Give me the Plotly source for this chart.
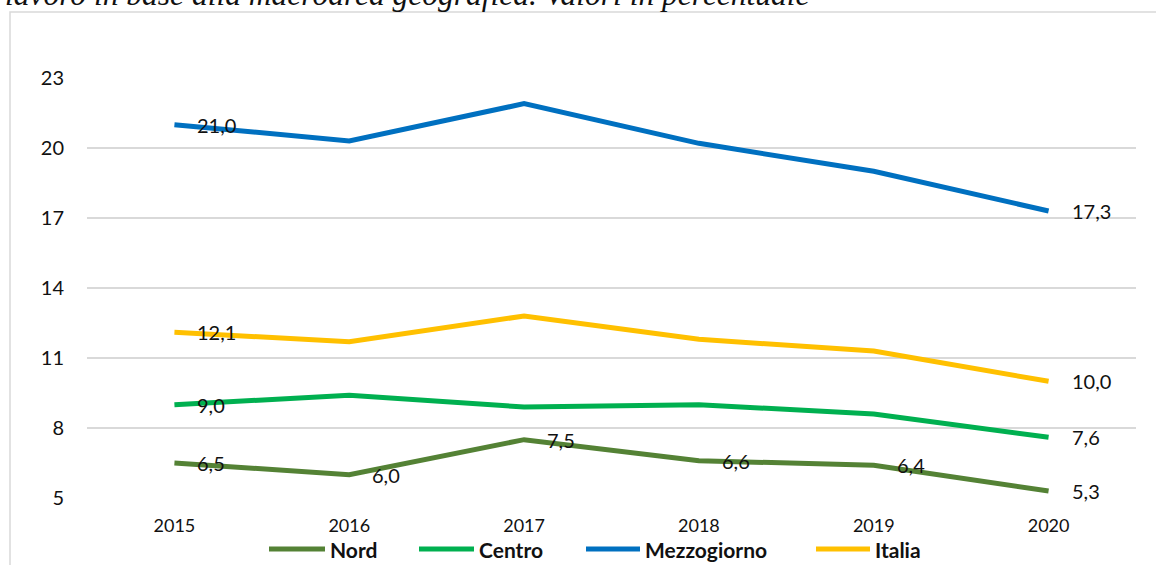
import plotly.graph_objects as go

years = ["2015", "2016", "2017", "2018", "2019", "2020"]
nord = [6.5, 6.0, 7.5, 6.6, 6.4, 5.3]
centro = [9.0, 9.4, 8.9, 9.0, 8.6, 7.6]
mezzogiorno = [21.0, 20.3, 21.9, 20.2, 19.0, 17.3]
italia = [12.1, 11.7, 12.8, 11.8, 11.3, 10.0]

series_names = ["Nord", "Centro", "Mezzogiorno", "Italia"]
series_values = [nord, centro, mezzogiorno, italia]
series_colors = ["#548235", "#00B050", "#0070C0", "#FFC000"]
# which points carry a data label
label_flags = [
    [1, 1, 1, 1, 1, 1],
    [1, 0, 0, 0, 0, 1],
    [1, 0, 0, 0, 0, 1],
    [1, 0, 0, 0, 0, 1],
]
y_ticks = [5, 8, 11, 14, 17, 20, 23]
title_text = "lavoro in base alla macroarea geografica. Valori in percentuale"

FONT = "Lato, 'Noto Sans', sans-serif"

L, R, T, B = 87, 20, 78, 67
W, H = 1156, 565
pw, ph = W - L - R, H - T - B


def px2x(px):
    return (px - L) / pw


def py2y(py):
    return (H - B - py) / ph


fig = go.Figure()
for name, vals, col in zip(series_names, series_values, series_colors):
    fig.add_trace(go.Scatter(
        x=years, y=vals, name=name, mode="lines",
        line=dict(color=col, width=5), showlegend=False,
    ))

annotations = []
for vals, flags in zip(series_values, label_flags):
    for i, (v, f) in enumerate(zip(vals, flags)):
        if f:
            annotations.append(dict(
                x=i, y=v, xref="x", yref="y",
                text=f"{v:.1f}".replace(".", ","),
                showarrow=False, xanchor="left", yanchor="middle",
                xshift=21, yshift=0,
                font=dict(family=FONT, size=20, color="#111111"),
            ))

# title (partially cut at top of the image)
annotations.append(dict(
    x=px2x(3), y=py2y(14), xref="paper", yref="paper",
    text="<i>" + title_text + "</i>",
    showarrow=False, xanchor="left", yanchor="bottom",
    font=dict(family="'Liberation Serif', serif", size=31.5, color="#111111"),
))

# custom legend (line symbol + bold label)
legend_line_px = [(269, 325), (419, 474), (586, 640), (816, 870)]
legend_y_px = 549
shapes = [dict(
    type="rect", xref="paper", yref="paper",
    x0=px2x(10), x1=px2x(1170), y0=py2y(580), y1=py2y(12),
    line=dict(color="#D9D9D9", width=1.5), fillcolor="rgba(0,0,0,0)",
    layer="below",
)]
for name, col, (a, b) in zip(series_names, series_colors, legend_line_px):
    shapes.append(dict(
        type="line", xref="paper", yref="paper",
        x0=px2x(a), x1=px2x(b), y0=py2y(legend_y_px), y1=py2y(legend_y_px),
        line=dict(color=col, width=5),
    ))
    annotations.append(dict(
        x=px2x(b + 3), y=py2y(legend_y_px), xref="paper", yref="paper",
        text="<b>" + name + "</b>", showarrow=False,
        xanchor="left", yanchor="middle",
        font=dict(family=FONT, size=21, color="#111111"),
    ))

fig.update_layout(
    width=W, height=H,
    margin=dict(l=L, r=R, t=T, b=B, pad=0, autoexpand=False),
    paper_bgcolor="white", plot_bgcolor="white",
    font=dict(family=FONT, color="#111111"),
    showlegend=False,
    xaxis=dict(
        type="category", range=[-0.5, 5.5], showgrid=False, zeroline=False, showline=False,
        ticks="", tickfont=dict(family=FONT, size=18, color="#111111"),
        ticklabelstandoff=15,
    ),
    yaxis=dict(
        range=[5, 23], tickvals=y_ticks, showgrid=True,
        gridcolor="#D9D9D9", gridwidth=1.5, zeroline=False, showline=False,
        ticks="", tickfont=dict(family=FONT, size=20, color="#111111"),
        ticklabelstandoff=22,
    ),
    annotations=annotations,
    shapes=shapes,
)

fig.write_html(
    "out.html",
    config={"displayModeBar": False},
    post_script="document.body.style.margin='0';document.body.style.overflow='hidden';",
)
